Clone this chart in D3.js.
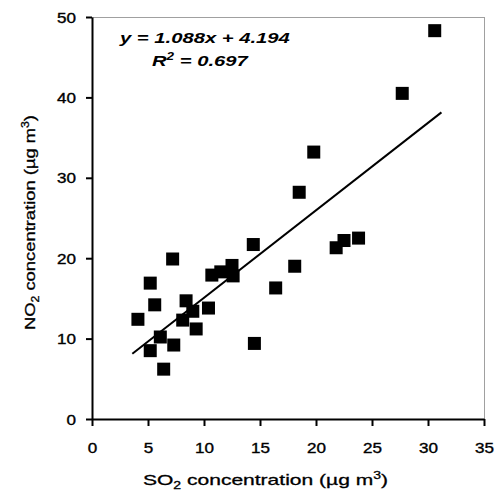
<!DOCTYPE html>
<html>
<head>
<meta charset="utf-8">
<script src="https://cdn.jsdelivr.net/npm/d3@7"></script>
<style>
  html, body { margin: 0; padding: 0; background: #fff; }
  svg { display: block; font-family: "Liberation Sans", Arial, sans-serif; }
</style>
</head>
<body>
<svg id="chart" width="496" height="495"></svg>
<script>
// ---- data ----
const so2 = [4.1, 5.2, 5.2, 5.6, 6.1, 6.4, 7.2, 7.3, 8.1, 8.4, 9.0, 9.3, 10.4, 10.7,
             11.5, 12.5, 12.6, 14.4, 14.5, 16.4, 18.1, 18.5, 19.8, 21.8, 22.5, 23.8, 27.7, 30.6];
const no2 = [12.4, 8.5, 16.9, 14.2, 10.2, 6.2, 19.9, 9.2, 12.3, 14.7, 13.4, 11.2, 13.8, 17.9,
             18.3, 19.1, 17.8, 21.7, 9.4, 16.3, 19.0, 28.2, 33.2, 21.3, 22.2, 22.5, 40.5, 48.3];
const xTicks = [0, 5, 10, 15, 20, 25, 30, 35];
const yTicks = [0, 10, 20, 30, 40, 50];
const slope = 1.088, intercept = 4.194, r2 = 0.697;
const trendX = [3.6, 31.2];

const svg = d3.select("#chart");
const L = 92, R = 484, T = 17, B = 419;
const x = d3.scaleLinear().domain([0, 35]).range([L, R]);
const y = d3.scaleLinear().domain([0, 50]).range([B, T]);

// plot frame (top/right light gray)
svg.append("line").attr("x1", L).attr("x2", R).attr("y1", T + 0.5).attr("y2", T + 0.5)
  .attr("stroke", "#a0a0a0").attr("stroke-width", 1);
svg.append("line").attr("x1", R + 0.5).attr("x2", R + 0.5).attr("y1", T).attr("y2", B)
  .attr("stroke", "#a0a0a0").attr("stroke-width", 1);

// axes
const xAxis = svg.append("g").attr("transform", `translate(0,${B})`)
  .call(d3.axisBottom(x).tickValues(xTicks).tickSize(7).tickSizeOuter(0).tickFormat(d3.format("d")));
const yAxis = svg.append("g").attr("transform", `translate(${L},0)`)
  .call(d3.axisLeft(y).tickValues(yTicks).tickSize(6).tickSizeOuter(0).tickFormat(d3.format("d")));

[xAxis, yAxis].forEach(a => {
  a.select(".domain").attr("stroke", "#000").attr("stroke-width", 2);
  a.selectAll(".tick line").attr("stroke", "#000").attr("stroke-width", 2);
  a.selectAll(".tick text").attr("fill", "#000").attr("font-size", 14)
    .attr("stroke", "#000").attr("stroke-width", 0.35)
    .attr("font-family", "Liberation Sans, Arial, sans-serif");
});
xAxis.selectAll(".tick text").attr("y", null).attr("dy", null)
  .attr("transform", "translate(0,34) scale(1.22,1)");
yAxis.selectAll(".tick text").attr("x", null).attr("dy", null)
  .attr("transform", "translate(-16,5) scale(1.22,1)");

// trend line
svg.append("line")
  .attr("x1", x(trendX[0])).attr("y1", y(slope * trendX[0] + intercept))
  .attr("x2", x(trendX[1])).attr("y2", y(slope * trendX[1] + intercept))
  .attr("stroke", "#000").attr("stroke-width", 2);

// points
const S = 13;
svg.append("g").selectAll("rect").data(so2.map((v, i) => [v, no2[i]])).join("rect")
  .attr("x", d => x(d[0]) - S / 2).attr("y", d => y(d[1]) - S / 2)
  .attr("width", S).attr("height", S).attr("fill", "#000");

// equation
const eq = svg.append("g").attr("font-weight", "bold").attr("font-style", "italic").attr("font-size", 15);
eq.append("text").attr("transform", "translate(120,43) scale(1.35,1)")
  .text(`y = ${slope}x + ${intercept}`);
const r2t = eq.append("text").attr("transform", "translate(152,66) scale(1.35,1)");
r2t.append("tspan").text("R");
r2t.append("tspan").attr("font-size", 10).attr("dy", -6).text("2");
r2t.append("tspan").attr("dy", 6).text(` = ${r2}`);

// axis titles
const xt = svg.append("text").attr("x", 143).attr("y", 485).attr("font-size", 15)
  .attr("stroke", "#000").attr("stroke-width", 0.3)
  .attr("textLength", 245).attr("lengthAdjust", "spacingAndGlyphs");
xt.append("tspan").text("SO");
xt.append("tspan").attr("font-size", 10).attr("dy", 4).text("2");
xt.append("tspan").attr("dy", -4).text(" concentration (µg m");
xt.append("tspan").attr("font-size", 10).attr("dy", -6).text("3");
xt.append("tspan").attr("dy", 6).text(")");

const yt = svg.append("text").attr("transform", "translate(35,330) rotate(-90)").attr("font-size", 15)
  .attr("stroke", "#000").attr("stroke-width", 0.3)
  .attr("textLength", 215).attr("lengthAdjust", "spacingAndGlyphs");
yt.append("tspan").text("NO");
yt.append("tspan").attr("font-size", 10).attr("dy", 4).text("2");
yt.append("tspan").attr("dy", -4).text(" concentration (µg m");
yt.append("tspan").attr("font-size", 10).attr("dy", -6).text("3");
yt.append("tspan").attr("dy", 6).text(")");
</script>
</body>
</html>
